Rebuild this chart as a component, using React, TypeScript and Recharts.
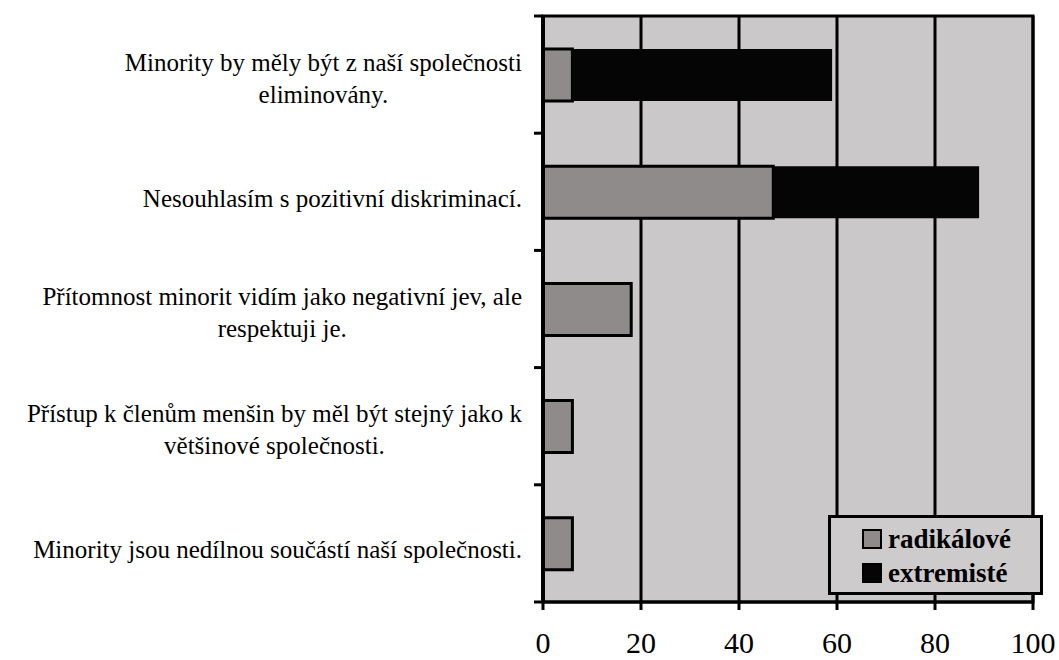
import React from 'react';
import { BarChart, Bar, XAxis, YAxis, CartesianGrid, Legend, ReferenceArea } from 'recharts';

const categories = [
  'Minority by měly být z naší společnosti\neliminovány.',
  'Nesouhlasím s pozitivní diskriminací.',
  'Přítomnost minorit vidím jako negativní jev, ale\nrespektuji je.',
  'Přístup k členům menšin by měl být stejný jako k\nvětšinové společnosti.',
  'Minority jsou nedílnou součástí naší společnosti.',
];
const radikalove = [6, 47, 18, 6, 6];
const extremiste = [53, 42, 0, 0, 0];
const xTicks = [0, 20, 40, 60, 80, 100];
const seriesNames = ['radikálové', 'extremisté'];
const seriesColors = ['#8f8b8b', '#050505'];

const data = categories.map((c, i) => ({
  cat: c,
  radikalove: radikalove[i],
  extremiste: extremiste[i],
}));

const SERIF = "'Liberation Serif', serif";
const LABEL_FS = 25;
const LABEL_LH = 32;

let ctx: CanvasRenderingContext2D | null = null;
function measure(text: string, font: string): number {
  if (!ctx) ctx = document.createElement('canvas').getContext('2d');
  if (!ctx) return text.length * 11;
  ctx.font = font;
  return ctx.measureText(text).width;
}

const YTick = (props: any) => {
  const { x, y, payload, index, visibleTicksCount } = props;
  const lines = String(payload.value).split('\n');
  const font = `${LABEL_FS}px ${SERIF}`;
  const widths = lines.map((l) => measure(l, font));
  const maxW = Math.max(...widths);
  const right = x - 21;
  const cx = right - maxW / 2;
  const startY = y + (lines.length > 1 ? 3 : 6) - ((lines.length - 1) * LABEL_LH) / 2;
  const h = typeof props.height === 'number' && props.height > 100 ? props.height : 586;
  const half = h / ((visibleTicksCount || 5) * 2);
  return (
    <g>
      <line x1={x - 9} x2={x} y1={y - half} y2={y - half} stroke="#000" strokeWidth={3} />
      {index === (visibleTicksCount || 5) - 1 && (
        <line x1={x - 9} x2={x} y1={y + half} y2={y + half} stroke="#000" strokeWidth={3} />
      )}
      <text
        x={cx}
        y={startY}
        textAnchor="middle"
        dominantBaseline="central"
        style={{ fontFamily: SERIF, fontSize: LABEL_FS }}
        fill="#000"
      >
        {lines.map((l, i) => (
          <tspan key={i} x={cx} y={startY + i * LABEL_LH}>
            {l}
          </tspan>
        ))}
      </text>
    </g>
  );
};

const XTick = (props: any) => {
  const { x, y, payload } = props;
  return (
    <text x={x} y={y} dy={41} textAnchor="middle" style={{ fontFamily: SERIF, fontSize: 30 }} fill="#000">
      {payload.value}
    </text>
  );
};

const LegendBox = () => (
  <div
    style={{
      width: 215,
      height: 80,
      boxSizing: 'border-box',
      border: '3px solid #000',
      background: '#cdcbcb',
      fontFamily: SERIF,
      fontWeight: 'bold',
      fontSize: 27,
      lineHeight: '34px',
      padding: '4px 0 0 31px',
      textAlign: 'left',
      color: '#000',
    }}
  >
    {seriesNames.map((n, i) => (
      <div key={n} style={{ display: 'flex', alignItems: 'center', height: 34 }}>
        <span
          style={{
            display: 'inline-block',
            width: 20,
            height: 20,
            boxSizing: 'border-box',
            background: seriesColors[i],
            border: '2px solid #000',
            marginRight: 6,
          }}
        />
        <span>{n}</span>
      </div>
    ))}
  </div>
);

export default function App() {
  return (
    <div style={{ position: 'absolute', left: 0, top: 0, width: 1059, height: 660, background: '#fff' }}>
      <BarChart
        width={1059}
        height={660}
        data={data}
        layout="vertical"
        margin={{ top: 16, right: 26, bottom: 0, left: 0 }}
        barSize={52}
      >
        <CartesianGrid horizontal={false} vertical stroke="#000" strokeWidth={3} fill="#cac8c8" fillOpacity={1} />
        <ReferenceArea x1={0} x2={100} fill="none" stroke="#000" strokeWidth={3} ifOverflow="visible" />
        <XAxis
          type="number"
          domain={[0, 100]}
          ticks={xTicks}
          interval={0}
          height={58}
          axisLine={{ stroke: '#000', strokeWidth: 3 }}
          tickLine={{ stroke: '#000', strokeWidth: 3 }}
          tickSize={8}
          tick={<XTick />}
        />
        <YAxis
          type="category"
          dataKey="cat"
          width={543}
          interval={0}
          axisLine={{ stroke: '#000', strokeWidth: 4 }}
          tickLine={false}
          tickSize={0}
          tickMargin={0}
          tick={<YTick />}
        />
        <Legend
          layout="horizontal"
          align="center"
          verticalAlign="middle"
          content={<LegendBox />}
          wrapperStyle={{ left: 828, top: 515, width: 215, height: 80 }}
        />
        <Bar
          dataKey="radikalove"
          name={seriesNames[0]}
          stackId="a"
          fill={seriesColors[0]}
          stroke="#000"
          strokeWidth={3}
          isAnimationActive={false}
        />
        <Bar
          dataKey="extremiste"
          name={seriesNames[1]}
          stackId="a"
          fill={seriesColors[1]}
          stroke="none"
          isAnimationActive={false}
        />
      </BarChart>
    </div>
  );
}
